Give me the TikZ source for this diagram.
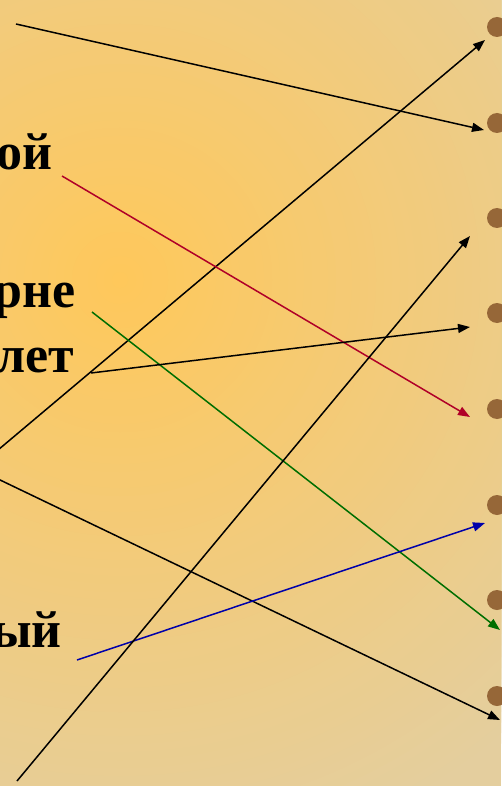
\documentclass[tikz,border=0pt]{standalone}
\usepackage{fontspec}
\setmainfont{Liberation Serif}
\usetikzlibrary{arrows.meta}
\definecolor{bgcenter}{RGB}{255,200,90}
\definecolor{bgedge}{RGB}{228,206,158}
\definecolor{bulletc}{RGB}{150,103,56}
\definecolor{redc}{RGB}{176,0,40}
\definecolor{greenc}{RGB}{0,110,0}
\definecolor{bluec}{RGB}{0,0,170}
\tikzset{
  lbl/.style={font=\bfseries\fontsize{52}{60}\selectfont, inner sep=0pt, anchor=base east},
  dot/.style={circle, fill=bulletc, minimum size=20pt, inner sep=0pt},
  arr/.style={line width=1.5pt, -{Triangle[length=12pt,width=9pt]}}
}
\begin{document}
\begin{tikzpicture}[x=1pt,y=-1pt]
\useasboundingbox (0,0) rectangle (501,786);
\begin{scope}
\clip (0,0) rectangle (501,786);
\fill[bgedge] (0,0) rectangle (501,786);
\foreach \r in {600,592,...,8} {
  \pgfmathsetmacro{\p}{\r/6}
  \fill[bgedge!\p!bgcenter] (120,280) circle (\r);
}
\end{scope}
% bullets
\foreach \i/\y in {1/27,2/123,3/218,4/313,5/409,6/505,7/600,8/696}
  \node[dot] (b\i) at (497,\y) {};
% labels
\node[lbl] (t1) at (53,170) {ой};
\node[lbl] (t2) at (76,307) {рне};
\node[lbl] (t3) at (74,372) {лет};
\node[lbl] (t4) at (62,647) {ый};
% start coordinates
\coordinate (s1) at (16,24);
\coordinate (s2) at (-2,450);
\coordinate (s3) at (62,176);
\coordinate (s4) at (92,312);
\coordinate (s5) at (91,373);
\coordinate (s6) at (-2,479);
\coordinate (s7) at (77,660);
\coordinate (s8) at (17,781);
% tip coordinates
\coordinate (e1) at (484,130);
\coordinate (e2) at (485,40);
\coordinate (e3) at (470,417);
\coordinate (e4) at (500,630);
\coordinate (e5) at (470,327);
\coordinate (e6) at (500,720);
\coordinate (e7) at (485,523);
\coordinate (e8) at (470,236);
\begin{scope}
\clip (0,0) rectangle (501,786);
\draw[arr] (s1) -- (e1);
\draw[arr] (s2) -- (e2);
\draw[arr, redc] (s3) -- (e3);
\draw[arr, greenc] (s4) -- (e4);
\draw[arr] (s5) -- (e5);
\draw[arr] (s6) -- (e6);
\draw[arr, bluec] (s7) -- (e7);
\draw[arr] (s8) -- (e8);
\end{scope}
\end{tikzpicture}
\end{document}
